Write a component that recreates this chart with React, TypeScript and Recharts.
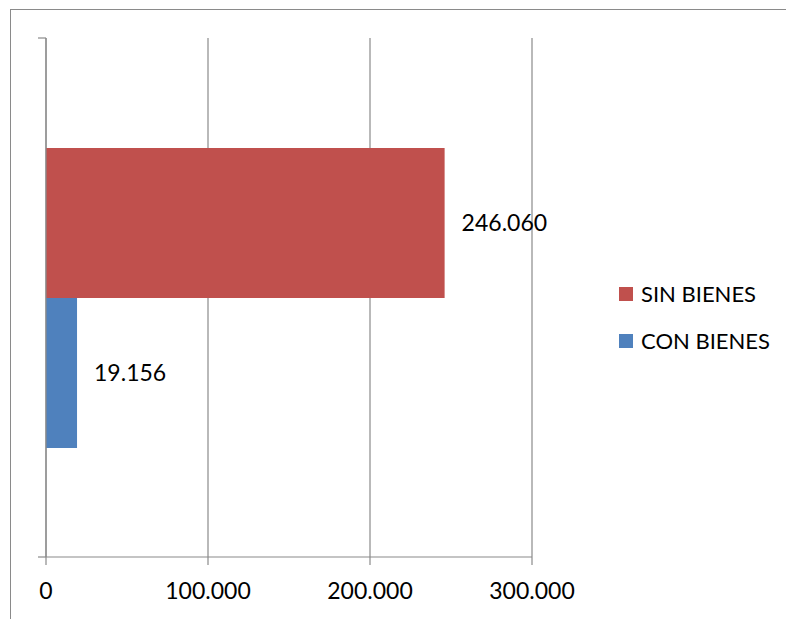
import React from 'react';
import { BarChart, Bar, XAxis, YAxis, CartesianGrid, Legend, LabelList } from 'recharts';

// Personas según tenencia de bienes
const categories = ['Total'];
const sinBienes = [246060];
const conBienes = [19156];
const xTicks = [0, 100000, 200000, 300000];

const data = categories.map((name, i) => ({
    name,
    sinBienes: sinBienes[i],
    conBienes: conBienes[i],
}));

const FONT = 'Lato, "Open Sans", sans-serif';
const AXIS_GRAY = '#8a8a8a';

// 246060 -> "246.060"
const formatMiles = (v: number) => String(Math.round(v)).replace(/\B(?=(\d{3})+(?!\d))/g, '.');

// marcas del eje de categorías en los bordes de cada banda, sin texto
const BandEdgeTick = ({ x, y, payload }: any) => {
    const half = payload?.offset ?? 0;
    return (
        <g>
            <line x1={x} x2={x + 8} y1={y - half} y2={y - half} stroke={AXIS_GRAY} strokeWidth={1.2} />
            <line x1={x} x2={x + 8} y1={y + half} y2={y + half} stroke={AXIS_GRAY} strokeWidth={1.2} />
        </g>
    );
};

// la leyenda va en el orden en que se apilan las barras (de arriba abajo)
const LegendBox = ({ payload }: any) => (
    <div style={{ fontFamily: FONT, fontSize: 22, color: '#000' }}>
        {[...(payload || [])].reverse().map((entry: any) => (
            <div key={entry.value} style={{ display: 'flex', alignItems: 'center', height: 47 }}>
                <span style={{ width: 14, height: 14, background: entry.color, marginRight: 8 }} />
                <span>{entry.value}</span>
            </div>
        ))}
    </div>
);

export default function App() {
    return (
        <div style={{ position: 'absolute', left: 0, top: 0, width: 786, height: 619, background: '#fff', overflow: 'hidden' }}>
            <div style={{ position: 'absolute', left: 10, top: 9, right: -10, bottom: -10, borderLeft: `1.5px solid ${AXIS_GRAY}`, borderTop: `1.5px solid ${AXIS_GRAY}` }} />
            <BarChart
                width={786}
                height={619}
                data={data}
                layout="vertical"
                margin={{ top: 38, right: 254, bottom: 32, left: 45 }}
                barCategoryGap={110}
                barGap={0}
                style={{ position: 'absolute', left: 0, top: 0, fontFamily: FONT }}
            >
                <CartesianGrid horizontal={false} vertical stroke={AXIS_GRAY} strokeWidth={1.2} />
                <XAxis
                    type="number"
                    domain={[0, 300000]}
                    ticks={xTicks}
                    tickFormatter={formatMiles}
                    axisLine={{ stroke: AXIS_GRAY, strokeWidth: 1.2 }}
                    tickLine={{ stroke: AXIS_GRAY, strokeWidth: 1.2 }}
                    tickSize={8}
                    tickMargin={18}
                    tick={{ fill: '#000', fontSize: 23 }}
                    interval={0}
                />
                <YAxis
                    type="category"
                    dataKey="name"
                    width={1}
                    tickSize={6}
                    tickMargin={2}
                    tick={<BandEdgeTick />}
                    tickLine={false}
                    axisLine={{ stroke: AXIS_GRAY, strokeWidth: 1.2 }}
                />
                <Legend
                    layout="horizontal"
                    align="center"
                    verticalAlign="middle"
                    content={<LegendBox />}
                    wrapperStyle={{ left: 619, top: 270, width: 170 }}
                />
                <Bar dataKey="sinBienes" name="SIN BIENES" fill="#C0504D" isAnimationActive={false}>
                    <LabelList dataKey="sinBienes" position="right" offset={17} formatter={formatMiles} fill="#000" fontSize={23} />
                </Bar>
                <Bar dataKey="conBienes" name="CON BIENES" fill="#4F81BD" isAnimationActive={false}>
                    <LabelList dataKey="conBienes" position="right" offset={17} formatter={formatMiles} fill="#000" fontSize={23} />
                </Bar>
            </BarChart>
        </div>
    );
}
